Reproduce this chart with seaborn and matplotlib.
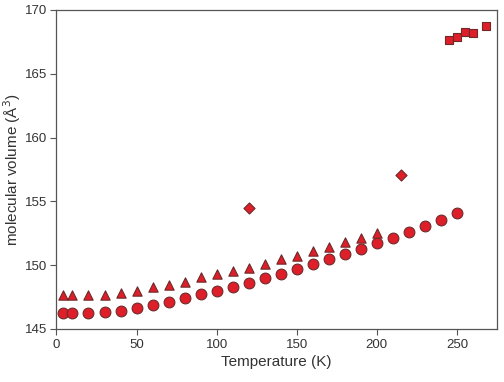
import matplotlib
matplotlib.use('Agg')
import matplotlib.pyplot as plt
import seaborn as sns
import pandas as pd

# molecular volume vs temperature
circle_T = [4, 10, 20, 30, 40, 50, 60, 70, 80, 90, 100, 110, 120, 130, 140, 150,
            160, 170, 180, 190, 200, 210, 220, 230, 240, 250]
circle_V = [146.23, 146.24, 146.27, 146.35, 146.43, 146.6, 146.9, 147.14, 147.43, 147.7,
            148.0, 148.3, 148.6, 149.0, 149.33, 149.7, 150.1, 150.5, 150.9, 151.3,
            151.7, 152.16, 152.6, 153.07, 153.57, 154.1]

tri_T = [4, 10, 20, 30, 40, 50, 60, 70, 80, 90, 100, 110, 120, 130, 140, 150,
         160, 170, 180, 190, 200]
tri_V = [147.64, 147.68, 147.66, 147.66, 147.8, 148.0, 148.3, 148.47, 148.68, 149.05,
         149.28, 149.52, 149.8, 150.1, 150.45, 150.75, 151.1, 151.43, 151.8, 152.1, 152.5]

diam_T = [120, 215]
diam_V = [154.5, 157.07]

sq_T = [245, 250, 255, 260, 268]
sq_V = [167.65, 167.9, 168.3, 168.2, 168.75]

face = '#de1f29'
edge = '#6e2a2a'

sns.set_style("white")
plt.rcParams['font.family'] = ['Liberation Sans', 'DejaVu Sans']

fig = plt.figure(figsize=(5.04, 3.82), dpi=100)
ax = fig.add_axes([0.112, 0.139, 0.874, 0.835])

series = [
    (circle_T, circle_V, 'o', 60),
    (tri_T, tri_V, '^', 45),
    (diam_T, diam_V, 'D', 32),
    (sq_T, sq_V, 's', 40),
]
for T, V, m, s in series:
    df = pd.DataFrame({'T': T, 'V': V})
    sns.scatterplot(data=df, x='T', y='V', marker=m, s=s, color=face,
                    edgecolor=edge, linewidth=0.8, ax=ax, zorder=3)

ax.set_xlim(0, 275)
ax.set_ylim(145, 170)
ax.set_xticks([0, 50, 100, 150, 200, 250])
ax.set_yticks([145, 150, 155, 160, 165, 170])

for sp in ax.spines.values():
    sp.set_color('#555555')
    sp.set_linewidth(0.9)
ax.tick_params(axis='both', direction='out', length=4, width=0.8, color='#555555',
               labelsize=9.5, labelcolor='#333333', bottom=True, left=True)
ax.tick_params(axis='y', pad=2.5)

ax.set_xlabel('Temperature (K)', fontsize=11, color='#333333', labelpad=3)
ax.set_ylabel('molecular volume (Å$^3$)', fontsize=11, color='#333333')
ax.yaxis.set_label_coords(-0.076, 0.5)

fig.savefig('out.png', dpi=100)
